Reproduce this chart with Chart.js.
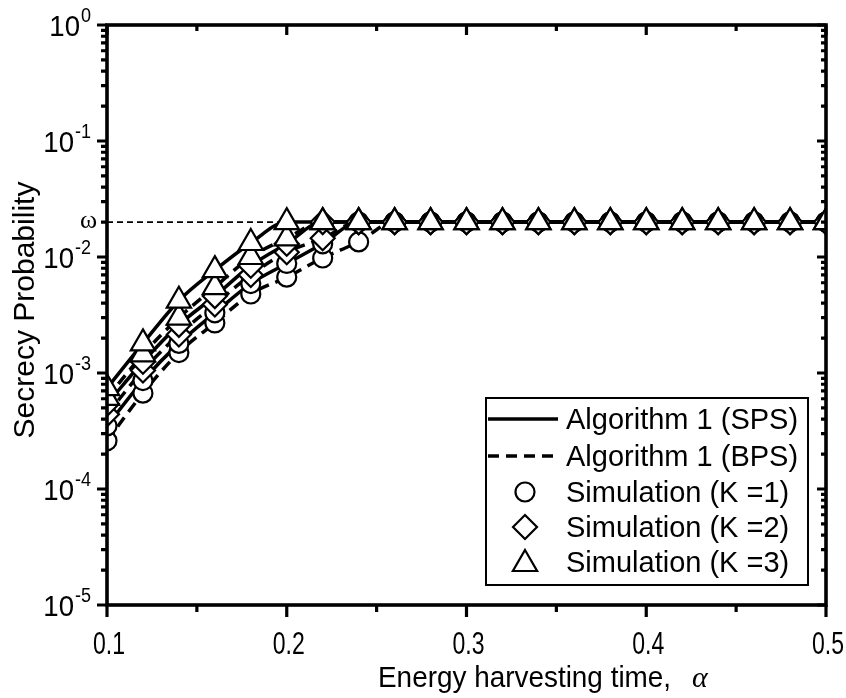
<!DOCTYPE html>
<html>
<head>
<meta charset="utf-8">
<script src="https://cdn.jsdelivr.net/npm/chart.js@4.4.1/dist/chart.umd.min.js"></script>
<style>
  html, body { margin: 0; padding: 0; background: #fff; }
  canvas { display: block; }
</style>
</head>
<body>
<canvas id="chart" width="846" height="698"></canvas>
<script>
// energy harvesting time (x)
const alpha = [0.10, 0.12, 0.14, 0.16, 0.18, 0.20, 0.22, 0.24, 0.26, 0.28, 0.30,
               0.32, 0.34, 0.36, 0.38, 0.40, 0.42, 0.44, 0.46, 0.48, 0.50];
const OMEGA = 0.02;

// secrecy probability, Algorithm 1 SPS / BPS for K = 1, 2, 3
const spsK3 = [7.4e-4, 1.8e-3, 4.2e-3, 7.7e-3, 1.32e-2, 0.02, 0.02, 0.02, 0.02, 0.02, 0.02,
               0.02, 0.02, 0.02, 0.02, 0.02, 0.02, 0.02, 0.02, 0.02, 0.02];
const bpsK3 = [6.1e-4, 1.45e-3, 3.0e-3, 5.5e-3, 1.0e-2, 1.45e-2, 0.02, 0.02, 0.02, 0.02, 0.02,
               0.02, 0.02, 0.02, 0.02, 0.02, 0.02, 0.02, 0.02, 0.02, 0.02];
const spsK2 = [5.4e-4, 1.25e-3, 2.6e-3, 4.6e-3, 8.4e-3, 1.3e-2, 0.02, 0.02, 0.02, 0.02, 0.02,
               0.02, 0.02, 0.02, 0.02, 0.02, 0.02, 0.02, 0.02, 0.02, 0.02];
const bpsK2 = [4.4e-4, 1.05e-3, 2.15e-3, 3.9e-3, 7.0e-3, 1.1e-2, 1.45e-2, 0.02, 0.02, 0.02, 0.02,
               0.02, 0.02, 0.02, 0.02, 0.02, 0.02, 0.02, 0.02, 0.02, 0.02];
const spsK1 = [3.5e-4, 8.6e-4, 1.8e-3, 3.3e-3, 5.9e-3, 8.8e-3, 1.3e-2, 0.02, 0.02, 0.02, 0.02,
               0.02, 0.02, 0.02, 0.02, 0.02, 0.02, 0.02, 0.02, 0.02, 0.02];
const bpsK1 = [2.6e-4, 6.7e-4, 1.5e-3, 2.7e-3, 4.8e-3, 6.7e-3, 9.8e-3, 1.35e-2, 0.02, 0.02, 0.02,
               0.02, 0.02, 0.02, 0.02, 0.02, 0.02, 0.02, 0.02, 0.02, 0.02];

const xMajor = [0.1, 0.2, 0.3, 0.4, 0.5];
const xMinor = [0.15, 0.25, 0.35, 0.45];
const xTickLabels = ['0.1', '0.2', '0.3', '0.4', '0.5'];
const yExponents = [0, -1, -2, -3, -4, -5];
const legendLabels = ['Algorithm 1 (SPS)', 'Algorithm 1 (BPS)',
                      'Simulation (K =1)', 'Simulation (K =2)', 'Simulation (K =3)'];

const SANS = '"Liberation Sans", Arial, Helvetica, sans-serif';
const SERIF = '"Liberation Serif", "Times New Roman", serif';
const DASH = [11, 7];
const MARK = { circle: 9.5, rectRot: 12, triangle: 14 };

function pts(vals) {
  return alpha.map((a, i) => ({ x: a, y: vals[i] }));
}

function lineSet(vals, dashed) {
  return {
    data: pts(vals),
    borderColor: '#000',
    borderWidth: 3.5,
    borderDash: dashed ? DASH : [],
    pointRadius: 0,
    cubicInterpolationMode: 'monotone',
    fill: false,
    clip: 0,
  };
}

function markSet(vals, style) {
  return {
    data: pts(vals),
    showLine: false,
    pointStyle: style,
    pointRadius: MARK[style],
    pointBackgroundColor: '#fff',
    pointBorderColor: '#000',
    pointBorderWidth: 2.2,
    clip: 0,
  };
}

// draw a marker by hand for the legend
function drawMark(ctx, style, x, y) {
  const r = MARK[style];
  ctx.beginPath();
  if (style === 'circle') {
    ctx.arc(x, y, r, 0, Math.PI * 2);
  } else if (style === 'rectRot') {
    ctx.moveTo(x - r, y); ctx.lineTo(x, y - r); ctx.lineTo(x + r, y); ctx.lineTo(x, y + r);
    ctx.closePath();
  } else {
    const w = r * Math.sin(Math.PI / 3);
    ctx.moveTo(x, y - r); ctx.lineTo(x + w, y + r / 2); ctx.lineTo(x - w, y + r / 2);
    ctx.closePath();
  }
  ctx.fillStyle = '#fff';
  ctx.fill();
  ctx.lineWidth = 2.2;
  ctx.strokeStyle = '#000';
  ctx.stroke();
}

function squeezedText(ctx, text, x, y, sx, align) {
  ctx.save();
  ctx.translate(x, y);
  ctx.scale(sx, 1);
  ctx.textAlign = align;
  ctx.fillText(text, 0, 0);
  ctx.restore();
}

const framePlugin = {
  id: 'frame',
  afterDatasetsDraw(chart) {
    const { ctx, chartArea: a, scales: { x, y } } = chart;
    ctx.save();
    ctx.strokeStyle = '#000';
    ctx.fillStyle = '#000';
    ctx.lineCap = 'butt';

    // ticks: outward on left/bottom, inward on top/right
    ctx.lineWidth = 3.2;
    ctx.beginPath();
    xMajor.forEach(v => {
      const px = x.getPixelForValue(v);
      ctx.moveTo(px, a.bottom); ctx.lineTo(px, a.bottom + 12);
      ctx.moveTo(px, a.top); ctx.lineTo(px, a.top + 10);
    });
    xMinor.forEach(v => {
      const px = x.getPixelForValue(v);
      ctx.moveTo(px, a.bottom); ctx.lineTo(px, a.bottom + 7);
      ctx.moveTo(px, a.top); ctx.lineTo(px, a.top + 6);
    });
    yExponents.forEach(e => {
      const py = y.getPixelForValue(Math.pow(10, e));
      ctx.moveTo(a.left, py); ctx.lineTo(a.left - 10, py);
      ctx.moveTo(a.right, py); ctx.lineTo(a.right - 9, py);
      if (e > -5) {
        for (let m = 2; m <= 9; m++) {
          const pm = y.getPixelForValue(m * Math.pow(10, e - 1));
          ctx.moveTo(a.left, pm); ctx.lineTo(a.left - 6, pm);
          ctx.moveTo(a.right, pm); ctx.lineTo(a.right - 5, pm);
        }
      }
    });
    ctx.stroke();

    // box
    ctx.lineWidth = 3.6;
    ctx.strokeRect(a.left, a.top, a.right - a.left, a.bottom - a.top);

    // x tick labels
    ctx.font = '32px ' + SANS;
    ctx.textBaseline = 'alphabetic';
    xMajor.forEach((v, i) => {
      squeezedText(ctx, xTickLabels[i], x.getPixelForValue(v) + 2, 654, 0.72, 'center');
    });

    // y tick labels 10^e
    yExponents.forEach(e => {
      const py = y.getPixelForValue(Math.pow(10, e));
      const exp = String(e);
      ctx.font = '20px ' + SANS;
      const ew = ctx.measureText(exp).width * 0.9;
      squeezedText(ctx, exp, 91, py - 3, 0.9, 'right');
      ctx.font = '30px ' + SANS;
      squeezedText(ctx, '10', 91 - ew - 1, py + 11, 0.92, 'right');
    });

    // omega marker on the axis
    ctx.font = '26px ' + SERIF;
    ctx.textAlign = 'right';
    ctx.fillText('\u03C9', 97, y.getPixelForValue(OMEGA) + 6);

    // axis titles
    ctx.font = '30px ' + SANS;
    squeezedText(ctx, 'Energy harvesting time,', 378, 687, 0.93, 'left');
    ctx.font = 'italic 30px ' + SERIF;
    ctx.textAlign = 'left';
    ctx.fillText('\u03B1', 692, 687);

    ctx.save();
    ctx.translate(34, 310);
    ctx.rotate(-Math.PI / 2);
    ctx.font = '30px ' + SANS;
    ctx.textAlign = 'center';
    ctx.fillText('Secrecy Probability', 0, 0);
    ctx.restore();

    // legend
    const box = { l: 486, t: 398, r: 808, b: 585 };
    ctx.fillStyle = '#fff';
    ctx.fillRect(box.l, box.t, box.r - box.l, box.b - box.t);
    ctx.lineWidth = 2;
    ctx.strokeRect(box.l, box.t, box.r - box.l, box.b - box.t);
    const rows = [419, 456, 492, 527, 562];
    ctx.lineWidth = 3.5;
    ctx.beginPath();
    ctx.moveTo(488, rows[0]); ctx.lineTo(558, rows[0]);
    ctx.stroke();
    ctx.setLineDash(DASH);
    ctx.beginPath();
    ctx.moveTo(488, rows[1]); ctx.lineTo(558, rows[1]);
    ctx.stroke();
    ctx.setLineDash([]);
    drawMark(ctx, 'circle', 525, rows[2]);
    drawMark(ctx, 'rectRot', 525, rows[3]);
    drawMark(ctx, 'triangle', 525, rows[4] + 2);
    ctx.fillStyle = '#000';
    ctx.font = '29px ' + SANS;
    ctx.textAlign = 'left';
    legendLabels.forEach((t, i) => ctx.fillText(t, 566, rows[i] + 10));

    ctx.restore();
  },
};

new Chart(document.getElementById('chart'), {
  type: 'line',
  data: {
    datasets: [
      // markers first so they are drawn on top
      markSet(spsK3, 'triangle'),
      markSet(bpsK3, 'triangle'),
      markSet(spsK2, 'rectRot'),
      markSet(bpsK2, 'rectRot'),
      markSet(spsK1, 'circle'),
      markSet(bpsK1, 'circle'),
      lineSet(spsK3, false),
      lineSet(bpsK3, true),
      lineSet(spsK2, false),
      lineSet(bpsK2, true),
      lineSet(spsK1, false),
      lineSet(bpsK1, true),
      {
        data: [{ x: 0.1, y: OMEGA }, { x: 0.5, y: OMEGA }],
        borderColor: '#000',
        borderWidth: 1.6,
        borderDash: [6, 4],
        pointRadius: 0,
        clip: 0,
      },
    ],
  },
  options: {
    responsive: false,
    devicePixelRatio: 1,
    animation: false,
    events: [],
    layout: { padding: { left: 107, right: 20, top: 25, bottom: 93 } },
    plugins: { legend: { display: false }, tooltip: { enabled: false } },
    scales: {
      x: { type: 'linear', min: 0.1, max: 0.5, display: false },
      y: { type: 'logarithmic', min: 1e-5, max: 1, display: false },
    },
  },
  plugins: [framePlugin],
});
</script>
</body>
</html>
